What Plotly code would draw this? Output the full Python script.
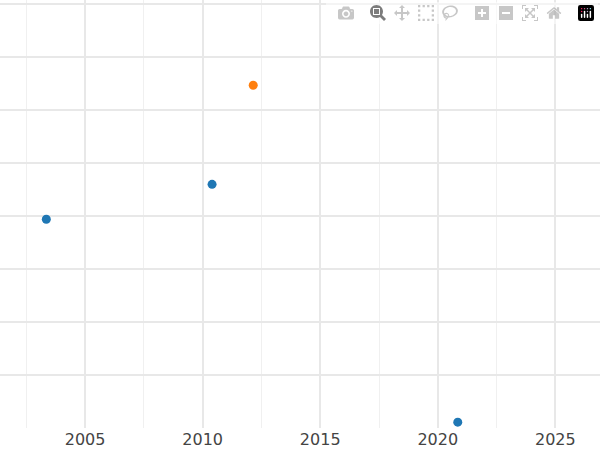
import plotly.graph_objects as go

# series values
years_a = [2003.35, 2010.4, 2020.85]
vals_a = [-0.06, 0.6, -3.89]
years_b = [2012.15]
vals_b = [2.47]

fig = go.Figure()
fig.add_trace(go.Scatter(x=years_a, y=vals_a, mode='markers',
                         marker=dict(color='#1f77b4', size=9)))
fig.add_trace(go.Scatter(x=years_b, y=vals_b, mode='markers',
                         marker=dict(color='#ff7f0e', size=9)))

fig.update_layout(width=600, height=450, showlegend=False,
                  plot_bgcolor='white', paper_bgcolor='white',
                  margin=dict(l=0, r=0, t=0, b=22),
                  font=dict(family='DejaVu Sans', size=16, color='#444'))
fig.update_xaxes(range=[2001.38, 2026.9], tickvals=[2005, 2010, 2015, 2020, 2025],
                 showgrid=True, gridcolor='#e8e8e8', gridwidth=2, zeroline=False,
                 ticks='', showline=False,
                 minor=dict(dtick=2.5, showgrid=True, gridcolor='#f0f0f0', gridwidth=1))
fig.update_yaxes(range=[-4.0, 4.08], dtick=1, showticklabels=False,
                 showgrid=True, gridcolor='#e8e8e8', gridwidth=1.5, zeroline=False)

# drop the page's default body margin so the figure sits at the corner
fig.write_html("out.html",
               post_script="document.body.style.margin='0';document.body.style.overflow='hidden';")
